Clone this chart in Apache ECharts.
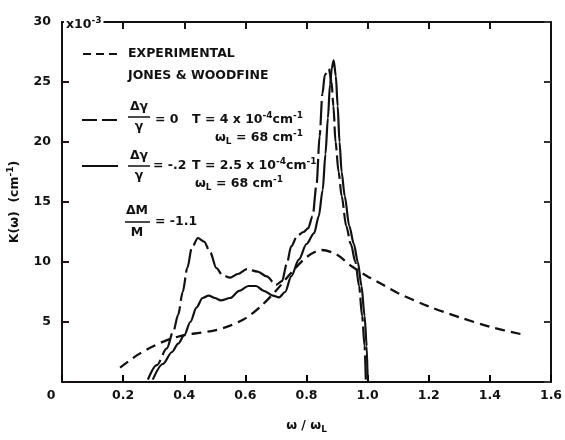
<!DOCTYPE html>
<html>
<head>
<meta charset="utf-8">
<script src="https://cdn.jsdelivr.net/npm/echarts@6/dist/echarts.min.js"></script>
<style>
  html, body { margin: 0; padding: 0; background: #fff; }
  #root { width: 565px; height: 440px; }
</style>
</head>
<body>
<div id="root"></div>
<script>
// 刻度
var xTicks = [0, 0.2, 0.4, 0.6, 0.8, 1.0, 1.2, 1.4, 1.6];
var xTickLabels = ['0', '0.2', '0.4', '0.6', '0.8', '1.0', '1.2', '1.4', '1.6'];
var yTicks = [0, 5, 10, 15, 20, 25, 30];
var yTickLabels = ['', '5', '10', '15', '20', '25', '30'];

// EXPERIMENTAL, JONES & WOODFINE  [w/wL, K]
var experimental = [
  [0.19, 1.2], [0.25, 2.3], [0.3, 3.0], [0.35, 3.55], [0.4, 3.9], [0.45, 4.1],
  [0.5, 4.3], [0.55, 4.7], [0.6, 5.3], [0.65, 6.3], [0.7, 7.6], [0.75, 9.1],
  [0.8, 10.4], [0.85, 11.0], [0.9, 10.6], [0.95, 9.6], [1.0, 8.8], [1.05, 8.1],
  [1.1, 7.4], [1.2, 6.3], [1.3, 5.4], [1.4, 4.6], [1.5, 4.0]
];
// dγ/γ = 0
var gammaZero = [
  [0.281, 0.2], [0.31, 1.4], [0.343, 2.8], [0.365, 4.3], [0.38, 5.6], [0.395, 7.5],
  [0.41, 9.5], [0.425, 11.2], [0.445, 12.0], [0.465, 11.7], [0.485, 10.8], [0.505, 9.5],
  [0.525, 8.9], [0.55, 8.7], [0.575, 9.0], [0.605, 9.4], [0.64, 9.2], [0.67, 8.8],
  [0.70, 8.1], [0.72, 8.4], [0.735, 9.8], [0.75, 11.3], [0.77, 12.2], [0.79, 12.5],
  [0.805, 12.8], [0.82, 13.8], [0.833, 16.5], [0.843, 20.5], [0.852, 24.0], [0.86, 25.6],
  [0.873, 26.1], [0.882, 25.0], [0.888, 23.0], [0.895, 20.0], [0.905, 17.5], [0.915, 15.5],
  [0.93, 13.0], [0.945, 11.5], [0.96, 10.0], [0.972, 8.0], [0.982, 5.5], [0.99, 3.0], [0.994, 0.2]
];
// dγ/γ = -.2
var gammaNeg = [
  [0.297, 0.2], [0.33, 1.5], [0.36, 2.5], [0.38, 3.2], [0.40, 3.9], [0.42, 5.0],
  [0.44, 6.2], [0.46, 7.0], [0.48, 7.2], [0.50, 7.0], [0.52, 6.8], [0.55, 7.0],
  [0.58, 7.6], [0.61, 8.0], [0.635, 8.0], [0.66, 7.6], [0.69, 7.2], [0.71, 7.05],
  [0.73, 7.5], [0.75, 8.8], [0.775, 10.2], [0.80, 11.5], [0.825, 12.4], [0.84, 13.8],
  [0.853, 16.0], [0.862, 19.0], [0.87, 22.0], [0.877, 24.8], [0.883, 26.2], [0.889, 26.8],
  [0.896, 25.5], [0.902, 23.0], [0.908, 20.0], [0.915, 17.5], [0.925, 15.5], [0.94, 13.0],
  [0.955, 11.5], [0.968, 10.0], [0.98, 8.0], [0.99, 5.5], [0.997, 3.0], [1.0, 0.2]
];

var FONT = 'DejaVu Sans';
var INK = '#111';

function tickLabel(list, labels) {
  return function (v) {
    for (var i = 0; i < list.length; i++) {
      if (Math.abs(list[i] - v) < 1e-6) {
        if (v === 0 && labels === xTickLabels) return '{z|' + labels[i] + '}';
        return labels[i];
      }
    }
    return '';
  };
}

var supStyle = { fontSize: 9, fontFamily: FONT, fontWeight: 'bold', color: INK, padding: [0, 0, 9, 0] };
var subStyle = { fontSize: 9, fontFamily: FONT, fontWeight: 'bold', color: INK, padding: [7, 0, 0, 0] };
var txtStyle = { fontSize: 12.5, fontFamily: FONT, fontWeight: 'bold', color: INK };

function txt(x, y, text, align, bg) {
  return {
    type: 'text', x: x, y: y, z: 100,
    style: {
      text: text, fill: INK, font: 'bold 12.5px "' + FONT + '"',
      align: align || 'left', verticalAlign: 'middle',
      backgroundColor: bg || null, padding: bg ? [0, 2, 0, 2] : 0,
      rich: { t: txtStyle, sup: supStyle, sub: subStyle }
    }
  };
}
function seg(x1, x2, y, dash, w) {
  return {
    type: 'line', shape: { x1: x1, y1: y, x2: x2, y2: y },
    style: { stroke: INK, lineWidth: w || 2, lineDash: dash || null }
  };
}

// 边框轴，secondary 要 onZero:false 否则会跑到0位置
// 刻度颜色每条轴试一种写法
function frameAxis(extra, secondary, tickColor) {
  var a = {
    axisLine: { show: true, lineStyle: { color: INK, width: 2 } },
    axisTick: { show: true, inside: true, length: 7, lineStyle: { color: tickColor, width: 2 } },
    splitLine: { show: false }
  };
  if (secondary) a.axisLine.onZero = false;
  for (var k in extra) a[k] = extra[k];
  return a;
}

var option = {
  animation: false,
  backgroundColor: '#fff',
  grid: { left: 62, right: 14, top: 22, bottom: 58, containLabel: false, outerBoundsMode: 'none' },
  xAxis: [
    frameAxis({
      type: 'value', min: 0, max: 1.6, interval: 0.2,
      name: '{t|ω / ω}{sub|L}', nameLocation: 'middle', nameGap: 36,
      nameTextStyle: { rich: { t: txtStyle, sub: subStyle } },
      axisLabel: {
        margin: 7, color: INK, fontFamily: FONT, fontWeight: 'bold', fontSize: 12.5,
        formatter: tickLabel(xTicks, xTickLabels),
        rich: { z: { fontFamily: FONT, fontWeight: 'bold', fontSize: 12.5, color: INK, padding: [0, 22, 0, 0] } }
      }
    }, false, 'black'),
    frameAxis({
      type: 'value', min: 0, max: 1.6, interval: 0.2, position: 'top',
      axisLabel: { show: false }
    }, true, 'rgb(20,20,20)')
  ],
  yAxis: [
    frameAxis({
      type: 'value', min: 0, max: 30, interval: 5,
      name: '{t|K(ω)  (cm}{sup|-1}{t|)}', nameLocation: 'middle', nameGap: 38,
      nameTextStyle: { rich: { t: { fontSize: 12.5, fontFamily: FONT, fontWeight: 'bold', color: INK }, sup: supStyle } },
      axisLabel: {
        margin: 11, color: INK, fontFamily: FONT, fontWeight: 'bold', fontSize: 12.5,
        formatter: tickLabel(yTicks, yTickLabels)
      }
    }, false, '#2a1010'),
    frameAxis({
      type: 'value', min: 0, max: 30, interval: 5, position: 'right',
      axisLabel: { show: false }
    }, true, '#333333')
  ],
  series: [
    {
      name: 'EXPERIMENTAL', type: 'line', data: experimental, showSymbol: false,
      smooth: 0.3, lineStyle: { color: INK, width: 2.3, type: [10, 6] }
    },
    {
      name: 'dg0', type: 'line', data: gammaZero, showSymbol: false,
      smooth: 0.3, smoothMonotone: 'x', lineStyle: { color: INK, width: 2.2, type: [24, 5] }
    },
    {
      name: 'dg2', type: 'line', data: gammaNeg, showSymbol: false,
      smooth: 0.3, smoothMonotone: 'x', lineStyle: { color: INK, width: 2.2 }
    }
  ],
  graphic: [
    txt(64, 25, '{t|x10}{sup|-3}', 'left', '#fff'),
    // EXPERIMENTAL
    seg(83, 120, 54, [8, 5]),
    txt(128, 54, 'EXPERIMENTAL'),
    txt(128, 76, 'JONES & WOODFINE'),
    // dγ/γ = 0
    seg(82, 118, 120, [15, 5]),
    txt(139, 107, 'Δγ', 'center'),
    seg(128, 150, 117, null, 1.5),
    txt(139, 127, 'γ', 'center'),
    txt(155, 120, '= 0'),
    txt(192, 120, '{t|T = 4 x 10}{sup|-4}{t|cm}{sup|-1}'),
    txt(215, 138, '{t|ω}{sub|L}{t| = 68 cm}{sup|-1}'),
    // dγ/γ = -.2
    seg(82, 118, 166, null),
    txt(139, 156, 'Δγ', 'center'),
    seg(128, 150, 166, null, 1.5),
    txt(139, 176, 'γ', 'center'),
    txt(153, 166, '= -.2'),
    txt(192, 166, '{t|T = 2.5 x 10}{sup|-4}{t|cm}{sup|-1}'),
    txt(195, 184, '{t|ω}{sub|L}{t| = 68 cm}{sup|-1}'),
    // dM/M
    txt(137, 211, 'ΔM', 'center'),
    seg(125, 150, 222, null, 1.5),
    txt(137, 233, 'M', 'center'),
    txt(155, 222, '= -1.1')
  ]
};

var myChart = echarts.init(document.getElementById('root'));
myChart.setOption(option);
</script>
</body>
</html>
